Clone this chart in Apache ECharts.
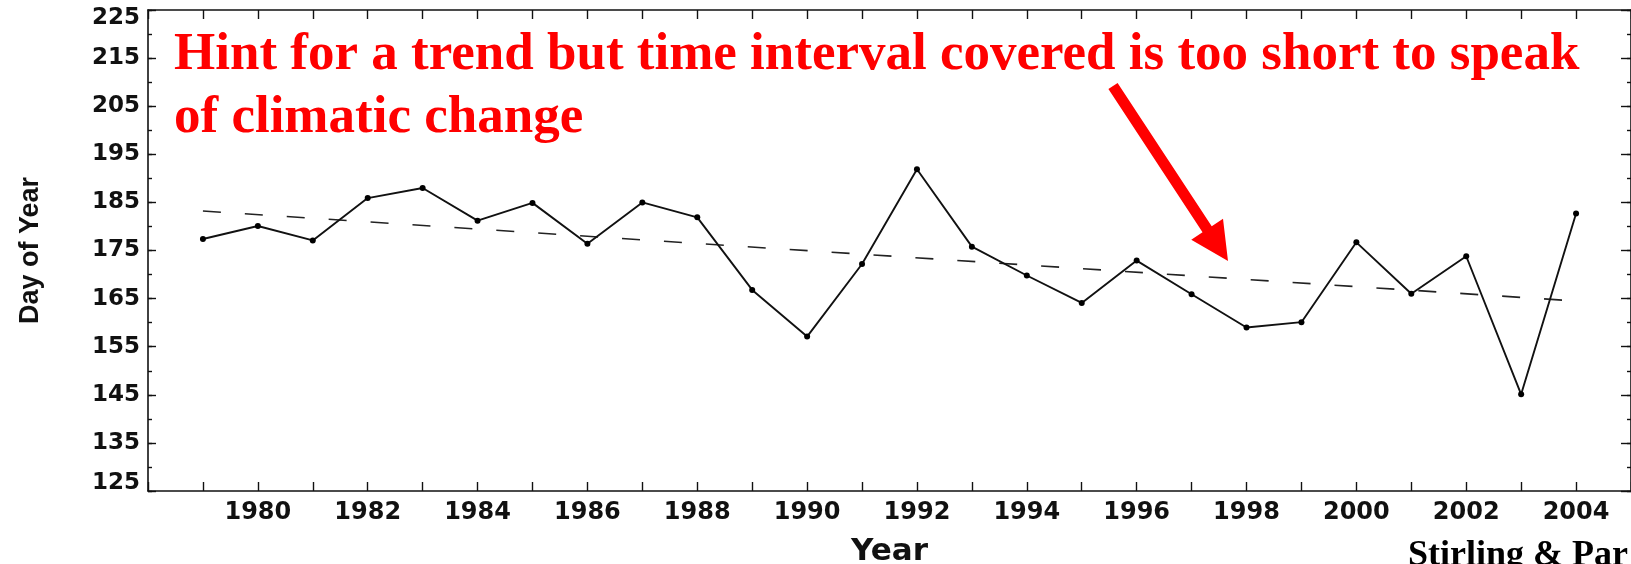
<!DOCTYPE html>
<html>
<head>
<meta charset="utf-8">
<title>Day of Year</title>
<script src="https://cdn.jsdelivr.net/npm/echarts@6/dist/echarts.min.js"></script>
<style>
  html, body { margin: 0; padding: 0; background: #ffffff; }
  #chart { width: 1631px; height: 564px; }
</style>
</head>
<body>
<div id="chart"></div>
<script>
// Break-up date (day of year) per season
const YEARS = [1979, 1980, 1981, 1982, 1983, 1984, 1985, 1986, 1987, 1988, 1989, 1990, 1991,
               1992, 1993, 1994, 1995, 1996, 1997, 1998, 1999, 2000, 2001, 2002, 2003, 2004];
const BREAKUP_DAY = [177.4, 180.1, 177.1, 185.9, 188.0, 181.2, 184.9, 176.4, 185.0, 181.9, 166.8, 157.1, 172.2,
                     191.9, 175.8, 169.8, 164.1, 172.9, 165.9, 159.0, 160.1, 176.7, 166.0, 173.8, 145.1, 182.7];

// Linear trend endpoints
const TREND_YEARS = [1979, 2004];
const TREND_DAY = [183.2, 164.5];

// Axis labels
const Y_TICKS = [125, 135, 145, 155, 165, 175, 185, 195, 205, 215, 225];
const X_LABEL_YEARS = [1980, 1982, 1984, 1986, 1988, 1990, 1992, 1994, 1996, 1998, 2000, 2002, 2004];

const NOTE_LINES = ['Hint for a trend but time interval covered is too short to speak', 'of climatic change'];
const SOURCE = 'Stirling & Par';

const chart = echarts.init(document.getElementById('chart'), null, { renderer: 'canvas' });

const axisLine = { show: true, onZero: false, lineStyle: { color: '#111', width: 1.6 } };
const tickStyle = { color: '#111', width: 1.4 };
const tickFont = { fontFamily: 'DejaVu Sans', fontWeight: 'bold', color: '#111' };

// Red arrow built from tail, tip and widths
function arrowPoints(tail, tip, halfShaft, halfHead, headLen) {
  const dx = tip[0] - tail[0], dy = tip[1] - tail[1];
  const len = Math.hypot(dx, dy);
  const ux = dx / len, uy = dy / len;
  const nx = -uy, ny = ux;
  const bx = tip[0] - ux * headLen, by = tip[1] - uy * headLen;
  return [
    [tail[0] + nx * halfShaft, tail[1] + ny * halfShaft],
    [bx + nx * halfShaft, by + ny * halfShaft],
    [bx + nx * halfHead, by + ny * halfHead],
    tip,
    [bx - nx * halfHead, by - ny * halfHead],
    [bx - nx * halfShaft, by - ny * halfShaft],
    [tail[0] - nx * halfShaft, tail[1] - ny * halfShaft]
  ];
}

const noteFont = 'bold 53px "Liberation Serif", "Times New Roman", serif';

const option = {
  backgroundColor: '#ffffff',
  animation: false,
  grid: { left: 148, right: 0, top: 10, bottom: 73, containLabel: false, outerBoundsMode: 'none' },
  xAxis: [
    {
      type: 'value', position: 'bottom', min: 1978, max: 2005, interval: 1,
      axisLine: axisLine,
      axisTick: { show: true, inside: true, length: 9, lineStyle: tickStyle },
      axisLabel: Object.assign({
        margin: 10, fontSize: 24,
        formatter: v => (X_LABEL_YEARS.indexOf(v) >= 0 ? String(v) : '')
      }, tickFont),
      splitLine: { show: false },
      name: 'Year', nameLocation: 'middle', nameGap: 45,
      nameTextStyle: { fontFamily: 'DejaVu Sans', fontWeight: 'bold', fontSize: 31, color: '#111' }
    },
    {
      type: 'value', position: 'top', min: 1978, max: 2005, interval: 1,
      axisLine: axisLine,
      axisTick: { show: true, inside: true, length: 9, lineStyle: tickStyle },
      axisLabel: { show: false },
      splitLine: { show: false }
    }
  ],
  yAxis: [
    {
      type: 'value', position: 'left', min: 125, max: 225, interval: 5,
      axisLine: axisLine,
      axisTick: { show: true, inside: true, length: 8, lineStyle: tickStyle, customValues: Y_TICKS },
      axisLabel: Object.assign({
        margin: 8, fontSize: 23, lineHeight: 16, customValues: Y_TICKS,
        verticalAlignMinLabel: 'bottom', verticalAlignMaxLabel: 'top'
      }, tickFont),
      splitLine: { show: false },
      name: 'Day of Year', nameLocation: 'middle', nameGap: 104, nameRotate: 90,
      nameTextStyle: { fontFamily: 'Liberation Sans', fontWeight: 'bold', fontSize: 27, color: '#111' }
    },
    {
      type: 'value', position: 'left', min: 125, max: 225, interval: 5,
      axisLine: { show: false },
      axisTick: { show: true, inside: true, length: 4, lineStyle: tickStyle },
      axisLabel: { show: false },
      splitLine: { show: false }
    },
    {
      type: 'value', position: 'right', min: 125, max: 225, interval: 5,
      axisLine: axisLine,
      axisTick: { show: true, inside: true, length: 10, lineStyle: tickStyle, customValues: Y_TICKS },
      axisLabel: { show: false },
      splitLine: { show: false }
    },
    {
      type: 'value', position: 'right', min: 125, max: 225, interval: 5,
      axisLine: { show: false },
      axisTick: { show: true, inside: true, length: 4, lineStyle: tickStyle },
      axisLabel: { show: false },
      splitLine: { show: false }
    }
  ],
  series: [
    {
      name: 'Break-up', type: 'line', xAxisIndex: 0, yAxisIndex: 0,
      data: YEARS.map((y, i) => [y, BREAKUP_DAY[i]]),
      symbol: 'circle', symbolSize: 6,
      lineStyle: { color: '#111', width: 1.9 },
      itemStyle: { color: '#000' },
      z: 3
    },
    {
      name: 'Trend', type: 'line', xAxisIndex: 0, yAxisIndex: 0,
      data: TREND_YEARS.map((y, i) => [y, TREND_DAY[i]]),
      symbol: 'none',
      lineStyle: { color: '#222', width: 1.6, type: [18, 24] },
      z: 2
    }
  ],
  graphic: [
    {
      type: 'text', left: 174, top: 29, z: 10,
      style: { text: NOTE_LINES[0], fill: '#ff0000', font: noteFont }
    },
    {
      type: 'text', left: 174, top: 92, z: 10,
      style: { text: NOTE_LINES[1], fill: '#ff0000', font: noteFont }
    },
    {
      type: 'polygon', z: 10,
      shape: { points: arrowPoints([1113, 86], [1228, 261], 5.5, 19, 38) },
      style: { fill: '#ff0000' }
    },
    {
      type: 'text', left: 1408, top: 538, z: 10,
      style: { text: SOURCE, fill: '#000', font: 'bold 36px "Liberation Serif", "Times New Roman", serif' }
    }
  ]
};

chart.setOption(option);
</script>
</body>
</html>
